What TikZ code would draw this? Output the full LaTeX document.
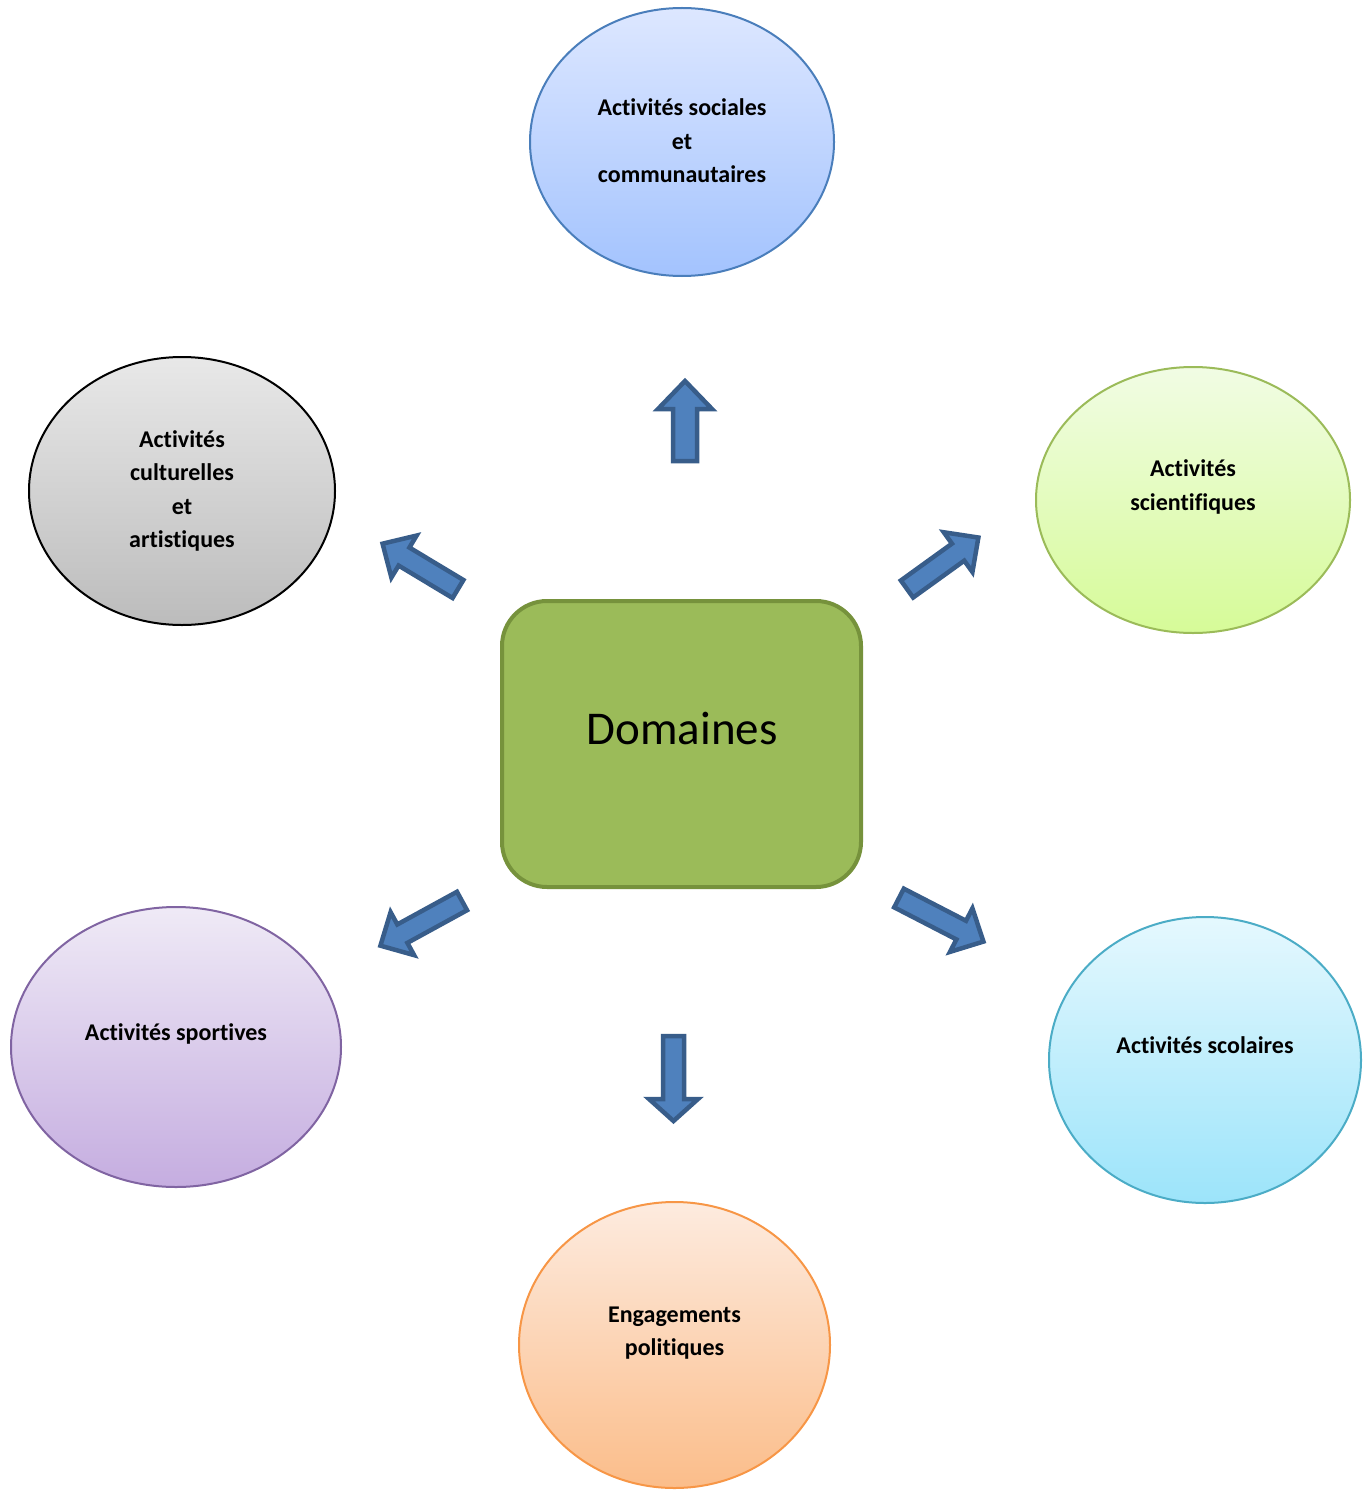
\documentclass[tikz,border=0pt]{standalone}
\usepackage{fontspec}
\setmainfont{Carlito}[Ligatures=CommonOff]
\usetikzlibrary{shapes.geometric}
\definecolor{arrfill}{HTML}{4F81BD}
\definecolor{arrline}{HTML}{385D8A}
\definecolor{boxfill}{HTML}{9BBB59}
\definecolor{boxline}{HTML}{76923C}
\definecolor{blueT}{HTML}{DDE7FF}\definecolor{blueB}{HTML}{A3C3FE}\definecolor{blueL}{HTML}{4A7EBB}
\definecolor{grayT}{HTML}{E8E8E8}\definecolor{grayB}{HTML}{BCBCBC}
\definecolor{greenT}{HTML}{F1FCE4}\definecolor{greenB}{HTML}{D6FB98}\definecolor{greenL}{HTML}{9BBB59}
\definecolor{purT}{HTML}{EFEAF6}\definecolor{purB}{HTML}{C5ADE0}\definecolor{purL}{HTML}{8064A2}
\definecolor{cyaT}{HTML}{E5F8FE}\definecolor{cyaB}{HTML}{9CE4FA}\definecolor{cyaL}{HTML}{4BACC6}
\definecolor{oraT}{HTML}{FDEBDF}\definecolor{oraB}{HTML}{FBBD8A}\definecolor{oraL}{HTML}{F79646}
\tikzset{
  bubble/.style={ellipse, line width=2pt, inner sep=0pt},
  bubtext/.style={font=\fontsize{24}{33.5}\selectfont\bfseries, align=center, text=black},
  arrowstyle/.style={fill=arrfill, draw=arrline, line width=4.5pt, line join=miter},
  pics/blockarrow/.style n args={4}{code={
    \draw[arrowstyle] (0,-#2) -- (#1-#4,-#2) -- (#1-#4,-#3) -- (#1,0) -- (#1-#4,#3) -- (#1-#4,#2) -- (0,#2) -- cycle;
  }}
}
\begin{document}
\begin{tikzpicture}[x=1pt,y=-1pt]
\useasboundingbox (0,0) rectangle (1372,1490);
% central box
\node[draw=boxline, fill=boxfill, line width=4pt, rounded corners=45pt, minimum width=359pt, minimum height=286pt, inner sep=0pt] (dom) at (681.5,744) {};
\node[font=\fontsize{47}{56}\selectfont] (domt) at (682,728) {Domaines};
% ellipses
\node[bubble, draw=blueL, top color=blueT, bottom color=blueB, minimum width=304pt, minimum height=268pt] (soc) at (682,142) {};
\node[bubtext] (soct) at (682,141) {Activités sociales\\et\\communautaires};
\node[bubble, draw=black, top color=grayT, bottom color=grayB, minimum width=306pt, minimum height=268pt] (cul) at (182,491) {};
\node[bubtext] (cult) at (182,491) {Activités\\culturelles\\et\\artistiques};
\node[bubble, draw=greenL, top color=greenT, bottom color=greenB, minimum width=314pt, minimum height=266pt] (sci) at (1193,500) {};
\node[bubtext] (scit) at (1193,487) {Activités\\scientifiques};
\node[bubble, draw=purL, top color=purT, bottom color=purB, minimum width=330pt, minimum height=280pt] (spo) at (176,1047) {};
\node[bubtext] (spot) at (176,1034) {Activités sportives};
\node[bubble, draw=cyaL, top color=cyaT, bottom color=cyaB, minimum width=312pt, minimum height=286pt] (sco) at (1205,1060) {};
\node[bubtext] (scot) at (1205,1045) {Activités scolaires};
\node[bubble, draw=oraL, top color=oraT, bottom color=oraB, minimum width=311pt, minimum height=286pt] (pol) at (674.5,1345) {};
\node[bubtext] (polt) at (674.5,1333) {Engagements\\politiques};
% block arrows
\pic[rotate=90] at (685,461) {blockarrow={80}{12}{27}{28}};
\pic[rotate=-90] at (673.5,1036) {blockarrow={85}{10.5}{24.5}{22}};
\pic[rotate=149] at (458,589) {blockarrow={88}{10.5}{24.5}{25}};
\pic[rotate=35.8] at (907,589) {blockarrow={88}{10.5}{24.5}{25}};
\pic[rotate=208.7] at (462,901) {blockarrow={93}{10.5}{24.5}{25}};
\pic[rotate=-27.3] at (899,898) {blockarrow={95}{10.5}{24.5}{25}};
\end{tikzpicture}
\end{document}
